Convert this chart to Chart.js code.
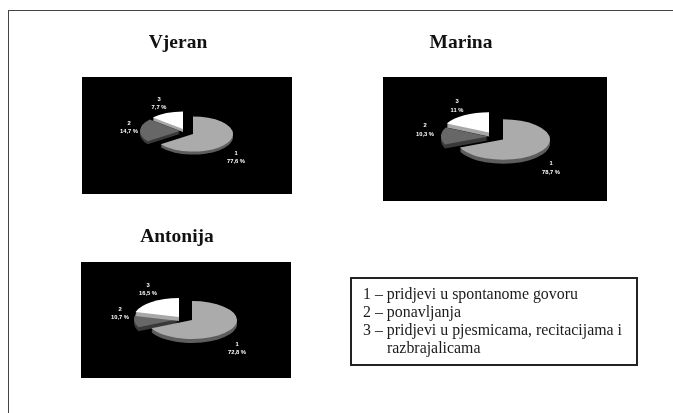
<!DOCTYPE html>
<html>
<head>
<meta charset="utf-8">
<script src="https://cdn.jsdelivr.net/npm/chart.js@4"></script>
<style>
html,body{margin:0;padding:0;background:#fff;width:673px;height:413px;overflow:hidden}
#page{position:relative;width:673px;height:413px;filter:blur(0.45px)}
.frameT{position:absolute;left:8px;top:10px;width:665px;height:1px;background:#444}
.frameL{position:absolute;left:8px;top:10px;width:1px;height:403px;background:#444}
.title{position:absolute;font:bold 19.5px "Liberation Serif",serif;color:#111;transform:translateX(-50%);white-space:nowrap}
.panel{position:absolute;background:#000}
canvas{display:block}
#legend{position:absolute;left:350px;top:277px;width:284px;height:85px;border:2px solid #222;box-sizing:content-box;
 font:15.9px/18px "Liberation Serif",serif;color:#1a1a1a;padding:0}
#legend div{position:absolute;left:11px;white-space:nowrap}
</style>
</head>
<body>
<div id="page">
<div class="frameT"></div><div class="frameL"></div>
<div class="title" style="left:178px;top:31px">Vjeran</div>
<div class="title" style="left:461px;top:31px">Marina</div>
<div class="title" style="left:177px;top:225px">Antonija</div>
<div class="panel" style="left:82px;top:77px;width:210px;height:117px"><canvas id="c1" width="210" height="117"></canvas></div>
<div class="panel" style="left:383px;top:77px;width:224px;height:124px"><canvas id="c2" width="224" height="124"></canvas></div>
<div class="panel" style="left:81px;top:262px;width:210px;height:116px"><canvas id="c3" width="210" height="116"></canvas></div>
<div id="legend">
<div style="top:6px">1 – pridjevi u spontanome govoru</div>
<div style="top:24px">2 – ponavljanja</div>
<div style="top:42px">3 – pridjevi u pjesmicama, recitacijama i</div>
<div style="top:60px;left:35px">razbrajalicama</div>
</div>
</div>
<script>
const categories = ['1','2','3'];
const vjeran = [77.6, 14.7, 7.7];
const marina = [78.7, 10.3, 11];
const antonija = [72.8, 10.7, 16.5];

const faceColors = ['#ababab','#676767','#ffffff'];
const rimColors  = ['#5e5e5e','#3a3a3a','#a8a8a8'];

const views = [
 {id:'c1', data:vjeran, radius:40, squash:.44, tilt:46, depth:3,
  pad:{left:12,right:0,top:0,bottom:3},
  explode:[[0,0],[-13,-3],[-10,-5]],
  tags:[[43,19],[-64,-11],[-34,-35]]},
 {id:'c2', data:marina, radius:47, squash:.43, tilt:38, depth:4,
  pad:{left:16,right:0,top:1,bottom:0},
  explode:[[0,0],[-15,-3],[-14,-7]],
  tags:[[48,24],[-78,-14],[-46,-38]]},
 {id:'c3', data:antonija, radius:45, squash:.42, tilt:18, depth:4,
  pad:{left:12,right:0,top:0,bottom:0},
  explode:[[0,0],[-13,-1],[-13,-3]],
  tags:[[45,24],[-72,-11],[-44,-35]]}
];

const fmt = v => String(v).replace('.',',') + ' %';

const tiltedPie = {
  id:'tiltedPie',
  afterDatasetsUpdate(chart, args, opts){
    const a = opts.tilt*Math.PI/180;
    chart.getDatasetMeta(0).data.forEach(el=>{
      const warp = t => { const th=t+Math.PI/2; return th + a*Math.sin(th) - Math.PI/2; };
      el.startAngle = warp(el.startAngle);
      el.endAngle = warp(el.endAngle);
      el.circumference = el.endAngle-el.startAngle;
    });
  },
  beforeDatasetsDraw(chart, args, opts){
    const ctx = chart.ctx, els = chart.getDatasetMeta(0).data;
    const put = (el,i,dy,fn)=>{
      ctx.save();
      ctx.translate(el.x+opts.explode[i][0], el.y+opts.explode[i][1]+dy);
      ctx.scale(1,opts.squash);
      ctx.translate(-el.x,-el.y);
      fn(); ctx.restore();
    };
    [1,2,0].forEach(i=>{
      const el = els[i], base = el.options;
      el.options = Object.assign({},base,{backgroundColor:rimColors[i],borderWidth:0});
      for(let d=opts.depth;d>=1;d--) put(el,i,d,()=>el.draw(ctx));
      el.options = base;
      put(el,i,0,()=>el.draw(ctx));
    });
    return false;
  },
  afterDraw(chart, args, opts){
    const ctx = chart.ctx, el = chart.getDatasetMeta(0).data[0];
    ctx.save();
    ctx.fillStyle='#ffffff';
    ctx.font='bold 5.8px "Liberation Sans",Arial,sans-serif';
    ctx.textAlign='center'; ctx.textBaseline='middle';
    chart.data.labels.forEach((lab,i)=>{
      const x=el.x+opts.tags[i][0], y=el.y+opts.tags[i][1];
      ctx.fillText(lab,x,y);
      ctx.fillText(fmt(chart.data.datasets[0].data[i]),x,y+8.5);
    });
    ctx.restore();
  }
};

views.forEach(v=>{
  new Chart(document.getElementById(v.id),{
    type:'pie',
    data:{labels:categories,datasets:[{data:v.data,backgroundColor:faceColors,borderWidth:0,radius:v.radius}]},
    options:{
      responsive:false,animation:false,events:[],
      layout:{padding:v.pad},
      plugins:{legend:{display:false},tooltip:{enabled:false},title:{display:false},
        tiltedPie:{squash:v.squash,tilt:v.tilt,depth:v.depth,explode:v.explode,tags:v.tags}}
    },
    plugins:[tiltedPie]
  });
});
</script>
</body>
</html>
